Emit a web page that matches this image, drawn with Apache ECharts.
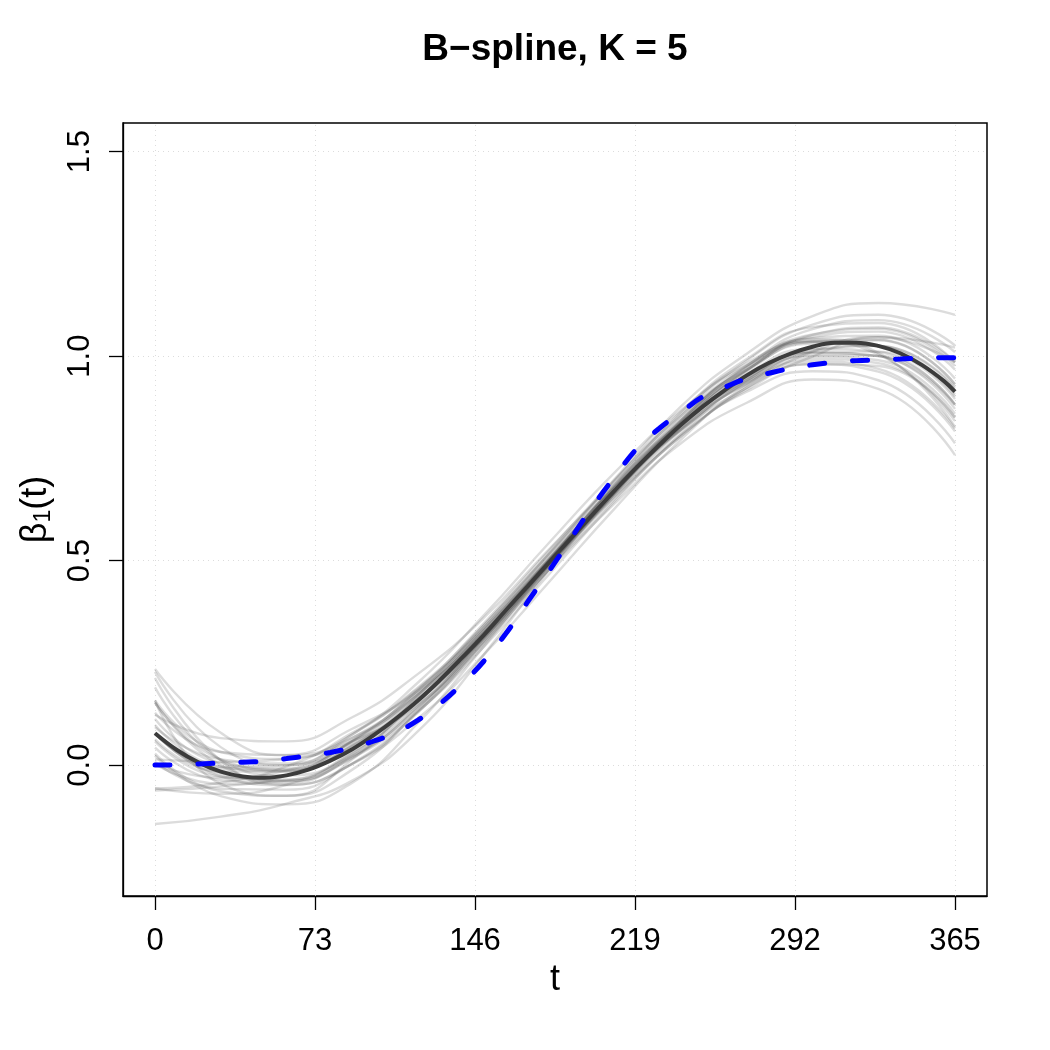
<!DOCTYPE html>
<html>
<head>
<meta charset="utf-8">
<title>B-spline, K = 5</title>
<script src="https://cdn.jsdelivr.net/npm/echarts@6/dist/echarts.min.js"></script>
<style>
  html, body { margin: 0; padding: 0; background: #fff; }
  #plot { width: 1050px; height: 1050px; }
</style>
</head>
<body>
<div id="plot"></div>
<script>
// tick positions / labels
const xTicks = [0, 73, 146, 219, 292, 365];
const yTicks = [0, 0.5, 1, 1.5];

// fine grid for the mean estimate and the true function
const tFine = [0, 10, 20, 30, 40, 50, 60, 70, 80, 90, 100, 110, 120, 130, 140, 150, 160, 170, 180,
               190, 200, 210, 220, 230, 240, 250, 260, 270, 280, 290, 300, 310, 320, 330, 340, 350, 360, 365];
const meanEst = [0.078, 0.037, 0.006, -0.016, -0.028, -0.031, -0.025, -0.011, 0.011, 0.039, 0.074, 0.114, 0.158,
                 0.208, 0.262, 0.318, 0.378, 0.437, 0.497, 0.556, 0.615, 0.673, 0.729, 0.782, 0.832, 0.877,
                 0.917, 0.953, 0.983, 1.006, 1.023, 1.033, 1.033, 1.025, 1.007, 0.978, 0.939, 0.913];
const trueBeta = [0.000, 0.001, 0.003, 0.005, 0.007, 0.010, 0.016, 0.023, 0.031, 0.043, 0.059, 0.080, 0.110,
                  0.150, 0.198, 0.254, 0.321, 0.399, 0.476, 0.556, 0.635, 0.707, 0.775, 0.823, 0.863, 0.901,
                  0.924, 0.945, 0.958, 0.970, 0.979, 0.985, 0.989, 0.991, 0.993, 0.995, 0.996, 0.996];

// coarse grid for the simulated estimates (grey curves)
const tSim = [0, 30, 60, 90, 120, 150, 180, 210, 240, 270, 300, 330, 365];
const sim01 = [0.158, 0.032, 0.015, 0.079, 0.190, 0.342, 0.517, 0.697, 0.864, 0.993, 1.071, 1.081, 0.985];
const sim02 = [0.008, -0.058, -0.060, 0.004, 0.130, 0.297, 0.479, 0.652, 0.804, 0.918, 0.981, 0.976, 0.850];
const sim03 = [0.228, 0.044, 0.000, 0.054, 0.158, 0.312, 0.489, 0.658, 0.808, 0.913, 0.963, 0.941, 0.787];
const sim04 = [-0.057, -0.070, -0.048, 0.026, 0.158, 0.323, 0.504, 0.687, 0.854, 0.989, 1.077, 1.101, 1.026];
const sim05 = [0.213, 0.011, -0.048, 0.003, 0.129, 0.302, 0.490, 0.673, 0.843, 0.976, 1.066, 1.088, 1.010];
const sim06 = [-0.057, -0.043, -0.003, 0.075, 0.187, 0.334, 0.504, 0.673, 0.821, 0.931, 0.980, 0.962, 0.816];
const sim07 = [0.158, -0.046, -0.075, 0.014, 0.170, 0.342, 0.517, 0.682, 0.820, 0.923, 0.999, 1.046, 1.021];
const sim08 = [0.014, 0.008, 0.015, 0.059, 0.148, 0.299, 0.481, 0.666, 0.842, 0.977, 1.042, 1.008, 0.827];
const sim09 = [0.128, 0.032, 0.025, 0.089, 0.182, 0.324, 0.492, 0.658, 0.804, 0.923, 1.011, 1.046, 0.985];
const sim10 = [0.028, -0.064, -0.075, -0.011, 0.134, 0.312, 0.502, 0.688, 0.860, 0.983, 1.035, 1.004, 0.841];
const sim11 = [-0.062, -0.052, -0.025, 0.059, 0.182, 0.336, 0.507, 0.679, 0.832, 0.938, 0.987, 0.969, 0.823];
const sim12 = [0.190, 0.013, -0.025, 0.023, 0.139, 0.304, 0.489, 0.668, 0.832, 0.965, 1.052, 1.070, 0.985];
const sim13 = [0.113, 0.005, -0.008, 0.057, 0.172, 0.329, 0.506, 0.684, 0.846, 0.971, 1.044, 1.050, 0.945];
const sim14 = [0.043, -0.037, -0.043, 0.022, 0.144, 0.308, 0.488, 0.663, 0.818, 0.936, 1.002, 1.001, 0.882];
const sim15 = [0.153, 0.014, -0.013, 0.047, 0.158, 0.315, 0.493, 0.666, 0.820, 0.933, 0.993, 0.983, 0.850];
const sim16 = [0.003, -0.046, -0.038, 0.032, 0.158, 0.321, 0.501, 0.681, 0.844, 0.973, 1.053, 1.067, 0.976];
const sim17 = [-0.144, -0.126, -0.094, -0.038, 0.083, 0.270, 0.479, 0.666, 0.827, 0.946, 1.008, 1.000, 0.881];
const sim18 = [0.235, 0.079, 0.024, 0.067, 0.173, 0.330, 0.509, 0.681, 0.837, 0.956, 1.018, 1.010, 0.881];
const sim19 = [0.093, 0.014, 0.004, 0.067, 0.178, 0.335, 0.519, 0.701, 0.877, 1.006, 1.098, 1.130, 1.101];
const sim20 = [0.063, -0.016, -0.016, 0.047, 0.163, 0.310, 0.479, 0.641, 0.787, 0.886, 0.943, 0.920, 0.758];
const sim21 = [0.123, 0.066, 0.058, 0.117, 0.223, 0.360, 0.529, 0.691, 0.837, 0.946, 1.008, 1.000, 0.871];
const sim22 = [0.023, -0.076, -0.096, -0.043, 0.103, 0.290, 0.489, 0.671, 0.837, 0.966, 1.038, 1.040, 0.931];
const sim23 = [0.098, -0.004, -0.015, 0.049, 0.166, 0.324, 0.502, 0.679, 0.840, 0.963, 1.035, 1.039, 0.931];
const sim24 = [0.058, -0.028, -0.035, 0.029, 0.150, 0.312, 0.492, 0.667, 0.824, 0.943, 1.011, 1.011, 0.895];
const sim25 = [0.153, -0.001, -0.038, 0.019, 0.142, 0.309, 0.493, 0.673, 0.838, 0.966, 1.047, 1.060, 0.967];
const sim26 = [0.003, -0.031, -0.013, 0.059, 0.174, 0.327, 0.501, 0.673, 0.826, 0.941, 0.999, 0.990, 0.859];
const sim27 = [0.078, -0.004, -0.001, 0.075, 0.202, 0.366, 0.545, 0.717, 0.868, 0.977, 1.035, 1.025, 0.901];
const sim28 = [0.078, -0.028, -0.049, 0.003, 0.114, 0.270, 0.449, 0.629, 0.796, 0.929, 1.011, 1.025, 0.925];
const sim29 = [0.078, -0.009, -0.011, 0.061, 0.184, 0.347, 0.526, 0.699, 0.854, 0.967, 1.030, 1.025, 0.906];
const sim30 = [0.078, -0.023, -0.039, 0.017, 0.132, 0.289, 0.468, 0.647, 0.810, 0.939, 1.016, 1.025, 0.920];
const sims = [sim01, sim02, sim03, sim04, sim05, sim06, sim07, sim08, sim09, sim10, sim11, sim12, sim13, sim14, sim15,
              sim16, sim17, sim18, sim19, sim20, sim21, sim22, sim23, sim24, sim25, sim26, sim27, sim28, sim29, sim30];

const FONT = '"Liberation Sans", Arial, Helvetica, sans-serif';

function pairs(xs, ys) {
    return xs.map(function (x, i) { return [x, ys[i]]; });
}

const chart = echarts.init(document.getElementById('plot'), null, { renderer: 'canvas' });

const series = [];

// dotted background grid, kept under everything
series.push({
    type: 'line',
    data: [],
    z: 0,
    silent: true,
    markLine: {
        silent: true,
        z: 0,
        symbol: ['none', 'none'],
        label: { show: false },
        animation: false,
        lineStyle: { color: '#dcdcdc', type: [1, 4], width: 1 },
        data: xTicks.map(function (v) { return { xAxis: v }; })
            .concat(yTicks.map(function (v) { return { yAxis: v }; }))
    }
});

sims.forEach(function (s) {
    series.push({
        type: 'line',
        data: pairs(tSim, s),
        smooth: 0.5,
        showSymbol: false,
        silent: true,
        z: 5,
        lineStyle: { color: 'rgba(80,80,80,0.2)', width: 2.4 }
    });
});

series.push({
    name: 'mean',
    type: 'line',
    data: pairs(tFine, meanEst),
    smooth: 0.4,
    showSymbol: false,
    z: 8,
    lineStyle: { color: '#3c3c3c', width: 4 }
});

series.push({
    name: 'true',
    type: 'line',
    data: pairs(tFine, trueBeta),
    smooth: 0.4,
    showSymbol: false,
    z: 9,
    lineStyle: { color: '#0000ff', width: 5, type: [15, 28], cap: 'round' }
});

const axisLineStyle = { color: '#000', width: 1.3 };

const option = {
    animation: false,
    backgroundColor: '#fff',
    textStyle: { fontFamily: FONT },
    graphic: [{
        type: 'text',
        x: 555,
        y: 50,
        style: {
            text: 'B\u2212spline, K = 5',
            font: 'bold 37px ' + FONT,
            fill: '#000',
            textAlign: 'center',
            textVerticalAlign: 'middle'
        }
    }],
    grid: {
        left: 123, right: 63, top: 123, bottom: 154,
        show: true, borderColor: '#000', borderWidth: 1.5, backgroundColor: 'transparent'
    },
    xAxis: {
        type: 'value',
        min: -14.6,
        max: 379.6,
        axisLine: { show: true, onZero: false, lineStyle: axisLineStyle },
        splitLine: { show: false },
        axisTick: { show: true, inside: false, customValues: xTicks, length: 14, lineStyle: axisLineStyle },
        axisLabel: { customValues: xTicks, fontSize: 31, color: '#000', margin: 30, fontFamily: FONT },
        name: 't',
        nameLocation: 'middle',
        nameGap: 44,
        nameTextStyle: { fontSize: 36, color: '#000', fontFamily: FONT }
    },
    yAxis: {
        type: 'value',
        min: -0.32,
        max: 1.57,
        axisLine: { show: true, onZero: false, lineStyle: axisLineStyle },
        splitLine: { show: false },
        axisTick: { show: true, inside: false, customValues: yTicks, length: 14, lineStyle: axisLineStyle },
        axisLabel: {
            customValues: yTicks, fontSize: 31, color: '#000', margin: 27, rotate: 90, fontFamily: FONT,
            formatter: function (v) { return v.toFixed(1); }
        },
        name: '{b|\u03b2}{s|1}{b|(t)}',
        nameLocation: 'middle',
        nameRotate: 90,
        nameGap: 68,
        nameTextStyle: {
            color: '#000',
            rich: {
                b: { fontSize: 36, fontFamily: FONT, color: '#000' },
                s: { fontSize: 23, fontFamily: FONT, color: '#000', verticalAlign: 'bottom', padding: [14, 0, 0, 0] }
            }
        }
    },
    series: series
};

chart.setOption(option);
</script>
</body>
</html>
